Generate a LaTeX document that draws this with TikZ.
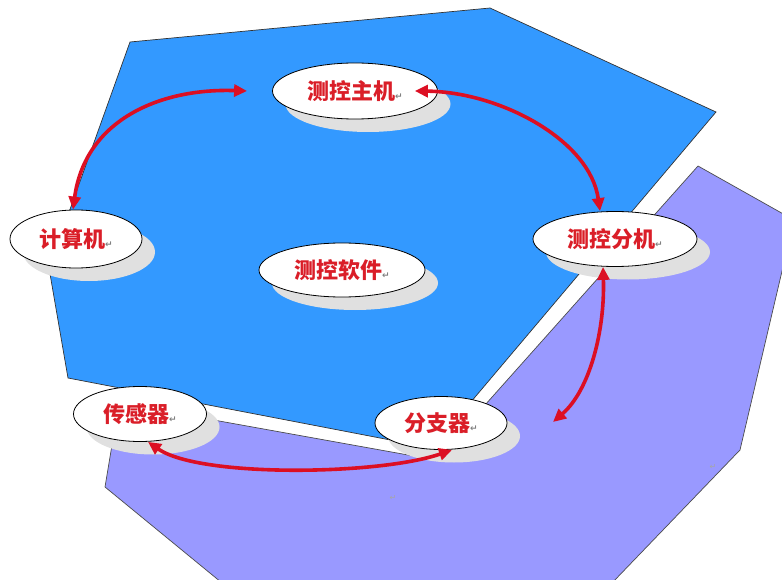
\documentclass[tikz,border=0pt]{standalone}
\usepackage{fontspec}
\newfontfamily\cjk{Noto Sans CJK SC}
\newfontfamily\symf{DejaVu Sans}
\usetikzlibrary{shapes.geometric,shadows,arrows.meta}
\definecolor{bluefill}{RGB}{51,153,255}
\definecolor{purplefill}{RGB}{153,153,255}
\definecolor{labelred}{RGB}{218,30,40}
\definecolor{arrowred}{RGB}{220,15,35}
\definecolor{shadowgray}{RGB}{224,224,224}
\newcommand{\pmark}{{\symf\fontsize{9}{9}\selectfont\color{gray}↵}}
\tikzset{
  bubble/.style={ellipse, draw=black, line width=0.8pt, fill=white, inner sep=0pt,
    general shadow={fill=shadowgray, shadow xshift=13pt, shadow yshift=-13pt},
    font=\cjk\bfseries\fontsize{22}{25}\selectfont, text=labelred},
  link/.style={draw=arrowred, line width=3.6pt,
    {Triangle[length=13pt,width=12pt]}-{Triangle[length=13pt,width=12pt]}},
  stray/.style={font=\symf\fontsize{8}{8}\selectfont, text=gray!70}
}
\begin{document}
\begin{tikzpicture}[x=1pt,y=-1pt]
\useasboundingbox (0,0) rectangle (782,580);
\clip (0,0) rectangle (782,580);
% plates
\draw[fill=purplefill, draw=black!70, line width=0.7pt]
  (698,166) -- (794,220) -- (740,450) -- (586,610) -- (255,610) -- (105,487)
  -- (119,403) -- (436,460) -- cycle;
\draw[fill=bluefill, draw=black!80, line width=0.7pt]
  (130,42) -- (490,8) -- (716,112) -- (432,448) -- (68,378) -- (49,268) -- cycle;
% stray paragraph marks
\node[stray] (m1) at (393,498) {↵};
\node[stray] (m2) at (713,467) {↵};
% nodes
\node[bubble, minimum width=165pt, minimum height=56pt] (main) at (355,91) {测控主机\pmark};
\node[bubble, minimum width=132pt, minimum height=58pt] (comp) at (76,239) {计算机\pmark};
\node[bubble, minimum width=166pt, minimum height=54pt] (soft) at (342,270) {测控软件\pmark};
\node[bubble, minimum width=164pt, minimum height=55pt] (sub) at (615,239) {测控分机\pmark};
\node[bubble, minimum width=133pt, minimum height=55pt] (sens) at (140,414) {传感器\pmark};
\node[bubble, minimum width=132pt, minimum height=53pt] (hub) at (441,423) {分支器\pmark};
\coordinate (free) at (553,422);
% connectors
\draw[link] ([xshift=-25pt]main.west) .. controls (160,88) and (85,120) .. ([xshift=-3pt]comp.north);
\draw[link] ([xshift=-23pt]main.east) .. controls (500,92) and (590,140) .. ([xshift=-15pt]sub.north);
\draw[link] ([xshift=-12pt]sub.south) .. controls (605,330) and (590,390) .. (free);
\draw[link] ([xshift=8pt]sens.south) .. controls (200,478) and (380,475) .. ([xshift=11pt]hub.south);
\end{tikzpicture}
\end{document}
